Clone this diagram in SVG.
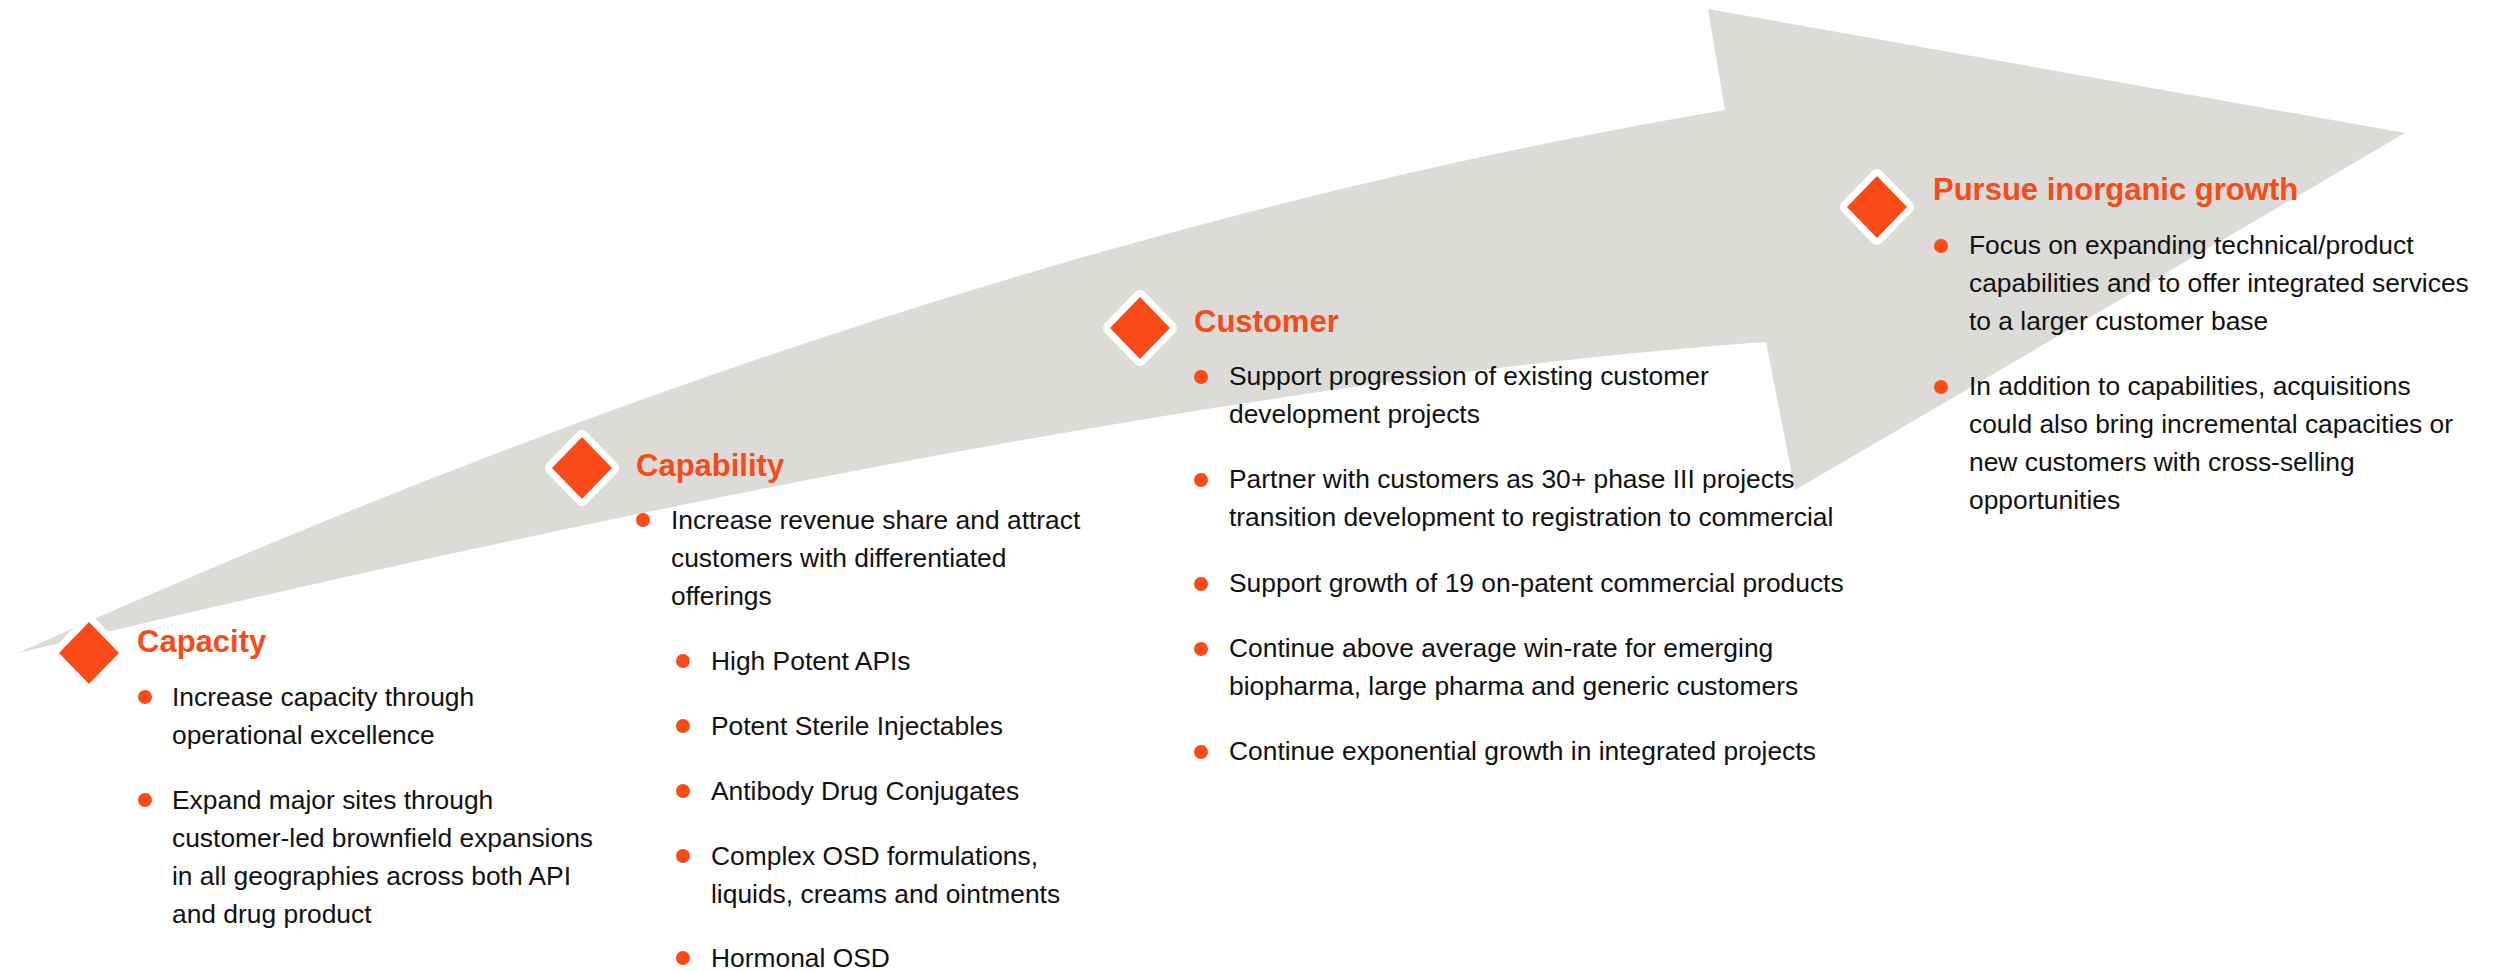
<svg xmlns="http://www.w3.org/2000/svg" width="2498" height="971" viewBox="0 0 2498 971">
<style>
.arrow{fill:#DCDBD7}
.dia{fill:#F94A17;stroke:#FFFFFF;stroke-width:14;stroke-linejoin:round;paint-order:stroke}
.title{font-family:"Liberation Sans",Arial,sans-serif;font-weight:bold;font-size:31px;fill:#F94A17}
.txt{font-family:"Liberation Sans",Arial,sans-serif;font-size:26.4px;fill:#111111}
.dot{fill:#F94A17}
</style>
<rect width="2498" height="971" fill="#FFFFFF"/>
<g id="connectors">
<path class="arrow" d="M18,653 Q914,248 1725,110 L1708,9 L2405,133 L1795,490 L1766,342 Q1128,387 18,653 Z"/>
</g>
<g id="capacity">
<polygon class="dia" points="89,622 119,653 89,684 59,653"/>
<text class="title" x="137" y="652">Capacity</text>
<circle class="dot" cx="145" cy="697" r="7"/>
<text class="txt" x="172" y="706">Increase capacity through</text>
<text class="txt" x="172" y="744">operational excellence</text>
<circle class="dot" cx="145" cy="800" r="7"/>
<text class="txt" x="172" y="809">Expand major sites through</text>
<text class="txt" x="172" y="847">customer-led brownfield expansions</text>
<text class="txt" x="172" y="885">in all geographies across both API</text>
<text class="txt" x="172" y="923">and drug product</text>
</g>
<g id="capability">
<polygon class="dia" points="582,437 612,468 582,499 552,468"/>
<text class="title" x="636" y="476">Capability</text>
<circle class="dot" cx="643" cy="520" r="7"/>
<text class="txt" x="671" y="529">Increase revenue share and attract</text>
<text class="txt" x="671" y="567">customers with differentiated</text>
<text class="txt" x="671" y="605">offerings</text>
<circle class="dot" cx="683" cy="661" r="7"/>
<text class="txt" x="711" y="670">High Potent APIs</text>
<circle class="dot" cx="683" cy="726" r="7"/>
<text class="txt" x="711" y="735">Potent Sterile Injectables</text>
<circle class="dot" cx="683" cy="791" r="7"/>
<text class="txt" x="711" y="800">Antibody Drug Conjugates</text>
<circle class="dot" cx="683" cy="856" r="7"/>
<text class="txt" x="711" y="865">Complex OSD formulations,</text>
<text class="txt" x="711" y="903">liquids, creams and ointments</text>
<circle class="dot" cx="683" cy="958" r="7"/>
<text class="txt" x="711" y="967">Hormonal OSD</text>
</g>
<g id="customer">
<polygon class="dia" points="1140,297 1170,328 1140,359 1110,328"/>
<text class="title" x="1194" y="332">Customer</text>
<circle class="dot" cx="1201" cy="377" r="7"/>
<text class="txt" x="1229" y="385">Support progression of existing customer</text>
<text class="txt" x="1229" y="423">development projects</text>
<circle class="dot" cx="1201" cy="480" r="7"/>
<text class="txt" x="1229" y="488">Partner with customers as 30+ phase III projects</text>
<text class="txt" x="1229" y="526">transition development to registration to commercial</text>
<circle class="dot" cx="1201" cy="584" r="7"/>
<text class="txt" x="1229" y="592">Support growth of 19 on-patent commercial products</text>
<circle class="dot" cx="1201" cy="649" r="7"/>
<text class="txt" x="1229" y="657">Continue above average win-rate for emerging</text>
<text class="txt" x="1229" y="695">biopharma, large pharma and generic customers</text>
<circle class="dot" cx="1201" cy="752" r="7"/>
<text class="txt" x="1229" y="760">Continue exponential growth in integrated projects</text>
</g>
<g id="inorganic">
<polygon class="dia" points="1877,176 1907,207 1877,238 1847,207"/>
<text class="title" x="1933" y="200">Pursue inorganic growth</text>
<circle class="dot" cx="1941" cy="246" r="7"/>
<text class="txt" x="1969" y="254">Focus on expanding technical/product</text>
<text class="txt" x="1969" y="292">capabilities and to offer integrated services</text>
<text class="txt" x="1969" y="330">to a larger customer base</text>
<circle class="dot" cx="1941" cy="387" r="7"/>
<text class="txt" x="1969" y="395">In addition to capabilities, acquisitions</text>
<text class="txt" x="1969" y="433">could also bring incremental capacities or</text>
<text class="txt" x="1969" y="471">new customers with cross-selling</text>
<text class="txt" x="1969" y="509">opportunities</text>
</g>
</svg>
